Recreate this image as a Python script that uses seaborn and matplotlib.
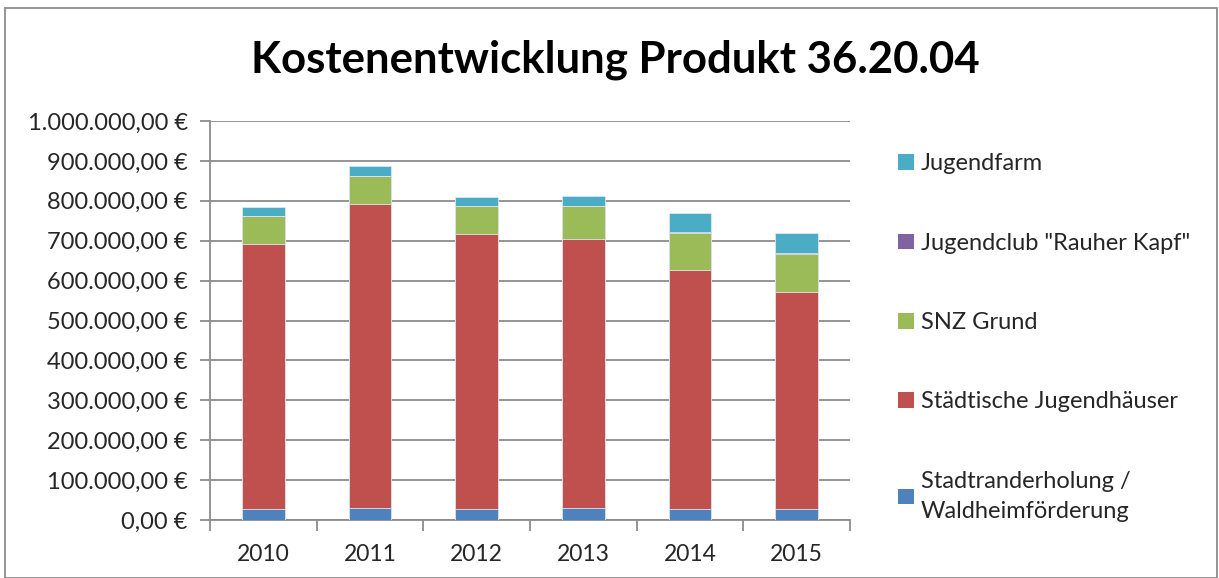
import matplotlib
matplotlib.use("Agg")
from matplotlib import pyplot as plt
from matplotlib.patches import Rectangle, Patch
from matplotlib.ticker import FuncFormatter, MultipleLocator
import seaborn as sns
import pandas as pd
import numpy as np

# Daten
jahre = ['2010', '2011', '2012', '2013', '2014', '2015']
stadtrand = [28000, 30000, 26700, 29000, 26700, 27000]
jugendhaeuser = [664500, 763000, 689000, 674300, 600000, 545500]
snz_grund = [68500, 68700, 70100, 83400, 91600, 94200]
jugendclub = [0, 0, 0, 0, 2500, 2000]
jugendfarm = [24000, 25000, 24200, 24100, 49200, 50300]

serien = ['Stadtranderholung /\nWaldheimförderung', 'Städtische Jugendhäuser',
          'SNZ Grund', 'Jugendclub "Rauher Kapf"', 'Jugendfarm']
farben = ['#4F81BD', '#C0504D', '#9BBB59', '#8064A2', '#4BACC6']

df = pd.DataFrame({'Jahr': jahre,
                   serien[0]: stadtrand,
                   serien[1]: jugendhaeuser,
                   serien[2]: snz_grund,
                   serien[3]: jugendclub,
                   serien[4]: jugendfarm})
kumuliert = df[serien].cumsum(axis=1)
kumuliert['Jahr'] = df['Jahr']

sns.set_style('white')
plt.rcParams['font.family'] = ['Lato', 'DejaVu Sans']

fig = plt.figure(figsize=(12.19, 5.78), dpi=100)
ax = fig.add_axes([210 / 1219, 1 - 520 / 578, 640 / 1219, 399 / 578])

# gestapelt: von oben nach unten übereinander zeichnen
for name, farbe in reversed(list(zip(serien, farben))):
    sns.barplot(data=kumuliert, x='Jahr', y=name, color=farbe, width=0.4,
                saturation=1, edgecolor='#dde6f0', linewidth=0.6, ax=ax, zorder=3)

ax.set_ylim(0, 1000000)
ax.set_xlim(-0.5, 5.5)
ax.yaxis.set_major_locator(MultipleLocator(100000))


def euro(v, pos):
    s = f'{v:,.2f}'.replace(',', 'X').replace('.', ',').replace('X', '.')
    return s + ' €'


ax.yaxis.set_major_formatter(FuncFormatter(euro))
ax.grid(axis='y', color='#8c8c8c', linewidth=1.3, zorder=0)
ax.set_axisbelow(True)
for s in ['top', 'right']:
    ax.spines[s].set_visible(False)
for s in ['left', 'bottom']:
    ax.spines[s].set_color('#8c8c8c')
    ax.spines[s].set_linewidth(1.3)

ax.set_xlabel('')
ax.set_ylabel('')
ax.tick_params(axis='y', length=7, width=1.3, color='#8c8c8c', labelsize=17, pad=9, left=True)
ax.tick_params(axis='x', which='major', length=0, labelsize=16.5, pad=17)
ax.set_xticks(np.arange(-0.5, 6.0, 1.0), minor=True)
ax.tick_params(axis='x', which='minor', length=8, width=1.3, color='#8c8c8c', bottom=True)

fig.text(0.505, 1 - 60 / 578, 'Kostenentwicklung Produkt 36.20.04', ha='center', va='center',
         fontsize=31.5, fontweight='bold', color='black')

handles = [Patch(facecolor=f, edgecolor='none') for f in reversed(farben)]
leg = fig.legend(handles, list(reversed(serien)), loc='upper left',
                 bbox_to_anchor=(889 / 1219, 1 - 144 / 578),
                 frameon=False, fontsize=17, handlelength=0.65, handleheight=0.65, handletextpad=0.3,
                 labelspacing=2.47, borderaxespad=0)
for t in leg.get_texts():
    t.set_linespacing(1.55)

fig.add_artist(Rectangle((0.004, 0.0), 0.994, 0.986, transform=fig.transFigure, fill=False,
                         edgecolor='#8c8c8c', linewidth=1.3))

fig.savefig('out.png', dpi=100)
